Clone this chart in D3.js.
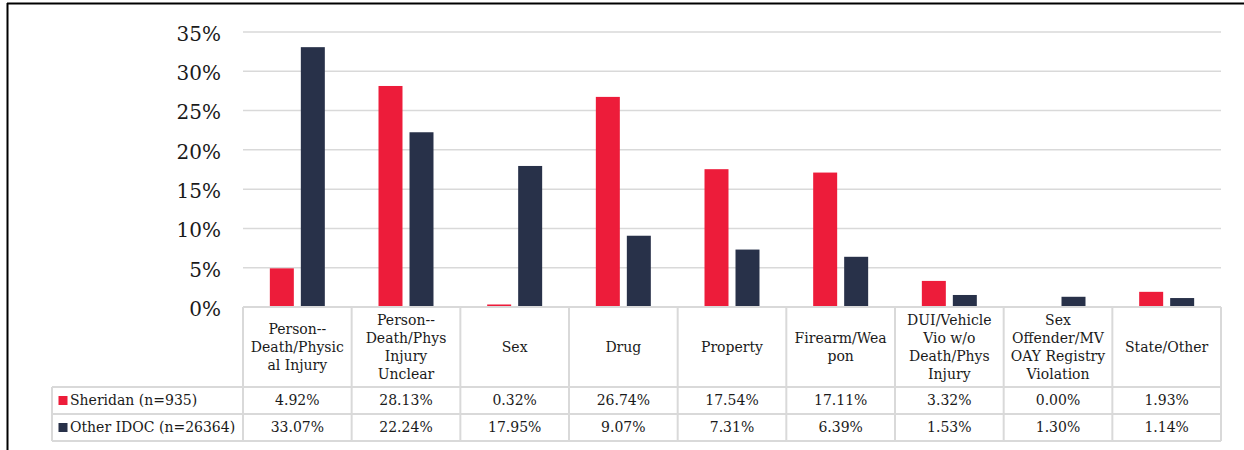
<!DOCTYPE html>
<html><head><meta charset="utf-8">
<script src="https://cdn.jsdelivr.net/npm/d3@7"></script>
<style>
html,body{margin:0;padding:0;background:#fff;}
svg{display:block;}
text{font-family:"DejaVu Serif",Georgia,serif;fill:#1a1a1a;}
</style></head>
<body>
<svg id="chart" width="1244" height="450"></svg>
<script>
const categories = ["Person--Death/Physical Injury","Person--Death/Phys Injury Unclear","Sex","Drug","Property","Firearm/Weapon","DUI/Vehicle Vio w/o Death/Phys Injury","Sex Offender/MVOAY Registry Violation","State/Other"];
const categoryLines = [
  ["Person--","Death/Physic","al Injury"],
  ["Person--","Death/Phys","Injury","Unclear"],
  ["Sex"],
  ["Drug"],
  ["Property"],
  ["Firearm/Wea","pon"],
  ["DUI/Vehicle","Vio w/o","Death/Phys","Injury"],
  ["Sex","Offender/MV","OAY Registry","Violation"],
  ["State/Other"]
];
const seriesNames = ["Sheridan (n=935)","Other IDOC (n=26364)"];
const sheridan = [4.92, 28.13, 0.32, 26.74, 17.54, 17.11, 3.32, 0.00, 1.93];
const otherIdoc = [33.07, 22.24, 17.95, 9.07, 7.31, 6.39, 1.53, 1.30, 1.14];
const yTicks = [0, 5, 10, 15, 20, 25, 30, 35];
const colors = ["#ED1C3A", "#283149"];

const seriesValues = [sheridan, otherIdoc];
const svg = d3.select("#chart");

// frame
svg.append("line").attr("x1",7).attr("x2",1244).attr("y1",3.5).attr("y2",3.5).attr("stroke","#000").attr("stroke-width",2);
svg.append("line").attr("x1",7.5).attr("x2",7.5).attr("y1",3).attr("y2",450).attr("stroke","#000").attr("stroke-width",2);

const plotLeft = 243, plotRight = 1221, plotTop = 32, zeroY = 307;
const x = d3.scaleBand().domain(categories).range([plotLeft, plotRight]).paddingInner(0).paddingOuter(0);
const x1 = d3.scaleBand().domain(seriesNames).range([0, x.bandwidth()]).paddingInner(0.226).paddingOuter(0.866);
const y = d3.scaleLinear().domain([0, 35]).range([zeroY, plotTop]);

// gridlines
svg.append("g").selectAll("line").data(yTicks.filter(d=>d>0)).join("line")
  .attr("x1", plotLeft).attr("x2", plotRight)
  .attr("y1", d=>y(d)).attr("y2", d=>y(d))
  .attr("stroke","#d9d9d9").attr("stroke-width",1.5);

// y axis labels
const yAxis = d3.axisLeft(y).tickValues(yTicks).tickFormat(d=>d+"%").tickSize(0).tickPadding(0);
const gy = svg.append("g").attr("transform","translate(221,2)").call(yAxis);
gy.select(".domain").remove();
gy.selectAll("text").style("font-family","'DejaVu Serif',serif").style("font-size","20px").attr("fill","#1a1a1a");

// bars
const g = svg.append("g");
seriesNames.forEach((s, si) => {
  g.selectAll(".bar"+si).data(categories).join("rect")
    .attr("x", (c)=> x(c) + x1(s))
    .attr("width", x1.bandwidth())
    .attr("y", (c,i)=> y(seriesValues[si][i]))
    .attr("height", (c,i)=> Math.max(0, zeroY - y(seriesValues[si][i])))
    .attr("fill", colors[si]);
});

// table
const tableLeft = 52, hdrTop = 307, row1Top = 387, row2Top = 414, tableBottom = 441;
const tg = svg.append("g");
const gridColor = "#d9d9d9";
function hline(xa, xb, yy){ tg.append("line").attr("x1",xa).attr("x2",xb).attr("y1",yy).attr("y2",yy).attr("stroke",gridColor).attr("stroke-width",2); }
function vline(xx, ya, yb){ tg.append("line").attr("x1",xx).attr("x2",xx).attr("y1",ya).attr("y2",yb).attr("stroke",gridColor).attr("stroke-width",2); }
hline(plotLeft, plotRight, hdrTop);
hline(tableLeft, plotRight, row1Top);
hline(tableLeft, plotRight, row2Top);
hline(tableLeft, plotRight, tableBottom);
vline(tableLeft, row1Top, tableBottom);
categories.forEach(c => vline(x(c), hdrTop, tableBottom));
vline(plotRight, hdrTop, tableBottom);

// header text
const lh = 17.8;
categories.forEach((c, i) => {
  const lines = categoryLines[i];
  const cx = x(c) + x.bandwidth()/2;
  const cy = (hdrTop + row1Top)/2;
  const t = tg.append("text").attr("text-anchor","middle").style("font-size","14px");
  lines.forEach((ln, j) => {
    t.append("tspan").attr("x", cx).attr("y", cy + (j - (lines.length-1)/2)*lh).attr("dy","0.35em").text(ln);
  });
});

// rows
const rowTops = [row1Top, row2Top];
seriesNames.forEach((s, si) => {
  const cy = rowTops[si] + (row2Top - row1Top)/2;
  tg.append("rect").attr("x",58.5).attr("y",cy-4.5).attr("width",9).attr("height",9).attr("fill",colors[si]);
  tg.append("text").attr("x",70).attr("y",cy).attr("dy","0.35em").style("font-size","14px").text(s);
  categories.forEach((c, i) => {
    tg.append("text").attr("x", x(c)+x.bandwidth()/2).attr("y", cy).attr("dy","0.35em")
      .attr("text-anchor","middle").style("font-size","14px")
      .text(seriesValues[si][i].toFixed(2)+"%");
  });
});
</script>
</body></html>
